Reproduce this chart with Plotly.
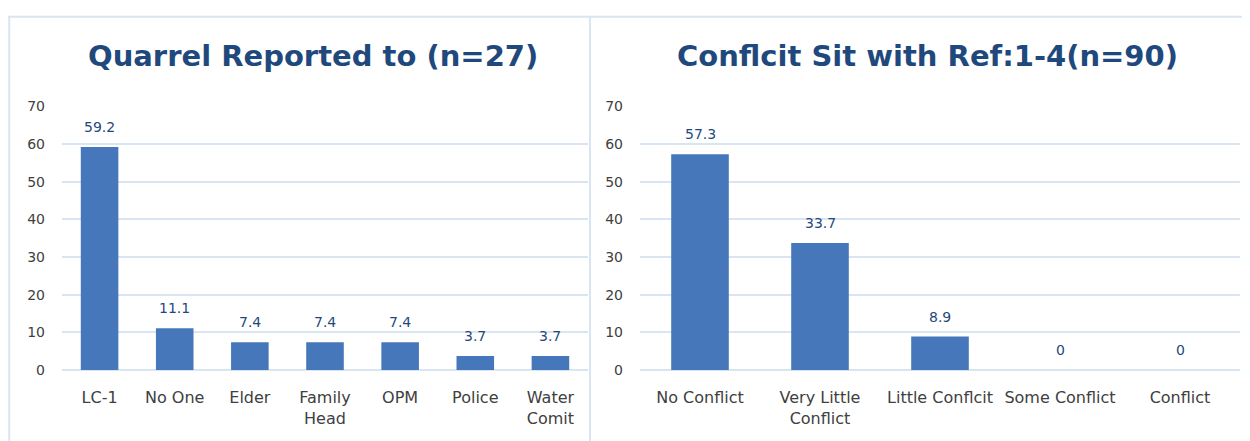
import plotly.graph_objects as go

# data
left_title = "Quarrel Reported to (n=27)"
left_cats = ["LC-1", "No One", "Elder", "Family<br>Head", "OPM", "Police", "Water<br>Comit"]
left_vals = [59.2, 11.1, 7.4, 7.4, 7.4, 3.7, 3.7]

right_title = "Conflcit Sit with Ref:1-4(n=90)"
right_cats = ["No Conflict", "Very Little<br>Conflict", "Little Conflcit", "Some Conflict", "Conflict"]
right_vals = [57.3, 33.7, 8.9, 0, 0]

y_ticks = [0, 10, 20, 30, 40, 50, 60, 70]

# the photographed page is offset and squeezed a little in height, so
# target pixel positions are mapped back into figure pixels
OX, OY, SY = 8, 15, 0.965
W, H = 1234, 441
BAR = "#4677BA"
GRID = "#DAE5F2"
TXT = "#404040"
TITLE = "#1F497D"
FONT = "DejaVu Sans"

def px_x(p):
    return (p - OX) / W

def px_y(p):
    return (H - (p / SY - OY)) / H

fig = go.Figure()

fig.add_trace(go.Bar(x=left_cats, y=left_vals, width=0.5,
                     marker=dict(color=BAR, line=dict(width=0)),
                     xaxis="x", yaxis="y", showlegend=False))
fig.add_trace(go.Bar(x=right_cats, y=right_vals, width=0.48,
                     marker=dict(color=BAR, line=dict(width=0)),
                     xaxis="x2", yaxis="y2", showlegend=False))

# data labels
for cats, vals, xr, yr in [(left_cats, left_vals, "x", "y"), (right_cats, right_vals, "x2", "y2")]:
    for c, v in zip(cats, vals):
        fig.add_annotation(x=c, y=v, xref=xr, yref=yr, text="%g" % v, showarrow=False,
                           yshift=20, font=dict(family=FONT, size=14, color=TITLE))

# titles
fig.add_annotation(x=px_x(313), y=px_y(55), xref="paper", yref="paper", text=left_title,
                   xanchor="center", yanchor="middle", showarrow=False,
                   font=dict(family=FONT, size=29, color=TITLE, weight="bold"))
fig.add_annotation(x=px_x(927), y=px_y(55), xref="paper", yref="paper", text=right_title,
                   xanchor="center", yanchor="middle", showarrow=False,
                   font=dict(family=FONT, size=29, color=TITLE, weight="bold"))

# panel borders
fig.add_shape(type="line", xref="paper", yref="paper", x0=0, x1=1, y0=0.998, y1=0.998,
              line=dict(color=GRID, width=2))
fig.add_shape(type="line", xref="paper", yref="paper", x0=0.001, x1=0.001, y0=0, y1=1,
              line=dict(color=GRID, width=2))
fig.add_shape(type="line", xref="paper", yref="paper", x0=px_x(590), x1=px_x(590), y0=0, y1=1,
              line=dict(color=GRID, width=2))

ydom = [px_y(369), px_y(105)]
yax = dict(range=[0, 70], tickvals=y_ticks, showgrid=True, gridcolor=GRID, gridwidth=2,
           zeroline=True, zerolinecolor=GRID, zerolinewidth=2, showline=False,
           tickfont=dict(family=FONT, size=14, color=TXT), ticklabelstandoff=16, fixedrange=True)
xax = dict(showgrid=False, showline=False, zeroline=False,
           tickfont=dict(family=FONT, size=16, color=TXT), ticklabelstandoff=16)

fig.update_layout(
    width=W, height=H, margin=dict(l=0, r=0, t=0, b=0),
    paper_bgcolor="white", plot_bgcolor="white",
    xaxis=dict(domain=[px_x(62), px_x(588)], anchor="y", **xax),
    yaxis=dict(domain=ydom, anchor="x", **yax),
    xaxis2=dict(domain=[px_x(640), px_x(1240)], anchor="y2", **xax),
    yaxis2=dict(domain=ydom, anchor="x2", **yax),
)

fig.write_html("out.html")
